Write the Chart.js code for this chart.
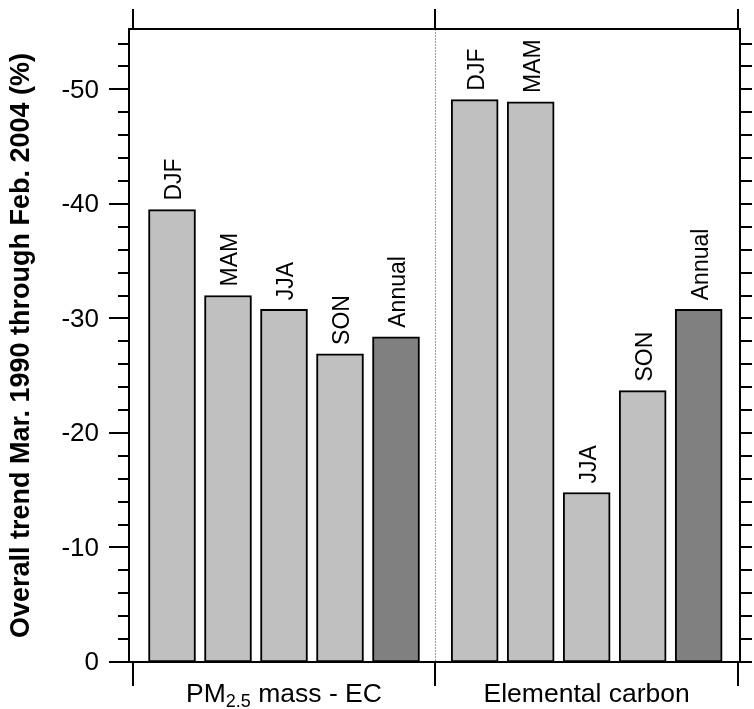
<!DOCTYPE html>
<html>
<head>
<meta charset="utf-8">
<script src="https://cdn.jsdelivr.net/npm/chart.js@4.4.1/dist/chart.umd.min.js"></script>
<style>
  html, body { margin: 0; padding: 0; background: #ffffff; }
  #trend-chart { display: block; }
</style>
</head>
<body>
<canvas id="trend-chart" width="754" height="709"></canvas>
<script>
// --- Data ---
const seasons = ['DJF', 'MAM', 'JJA', 'SON', 'Annual'];
const groupNames = ['PM2.5 mass - EC', 'Elemental carbon'];
const pmMinusEcTrend = [-39.5, -32.0, -30.8, -26.9, -28.4];
const ecTrend = [-49.1, -48.9, -14.8, -23.7, -30.8];
const yTickValues = [0, -10, -20, -30, -40, -50];

(function () {
    const FONT = '"Liberation Sans", Arial, Helvetica, sans-serif';
    // x layout in "bar pitch" units (one unit = distance between bar centres)
    const groupStart = [0.768, 6.173];
    const groupEdges = [0.071, 5.464, 10.875];

    function barColors() {
        return seasons.map(s => s === 'Annual' ? '#808080' : '#c0c0c0');
    }

    function toPoints(values, g) {
        return values.map((v, i) => ({ x: groupStart[g] + i, y: v }));
    }

    const datasets = [pmMinusEcTrend, ecTrend].map((values, g) => ({
        label: groupNames[g],
        data: toPoints(values, g),
        backgroundColor: barColors(),
        borderColor: '#000000',
        borderWidth: 2,
        borderSkipped: false,
        barThickness: 47,
        grouped: false
    }));

    // Frame, ticks, divider and all texts, placed through the chart scales
    const framePlugin = {
        id: 'frameTicks',
        beforeDatasetsDraw(chart) {
            const ctx = chart.ctx;
            const a = chart.chartArea;
            const xs = chart.scales.x;
            const x = Math.round(xs.getPixelForValue(groupEdges[1])) + 0.5;
            ctx.save();
            ctx.strokeStyle = '#9090ff';
            ctx.lineWidth = 1;
            ctx.setLineDash([2, 1]);
            ctx.beginPath();
            ctx.moveTo(x, a.top);
            ctx.lineTo(x, a.bottom);
            ctx.stroke();
            ctx.restore();
        },
        afterDraw(chart) {
            const ctx = chart.ctx;
            const a = chart.chartArea;
            const xs = chart.scales.x;
            const ys = chart.scales.y;
            ctx.save();
            ctx.strokeStyle = '#000000';
            ctx.lineWidth = 2;
            ctx.lineCap = 'butt';

            // plot box
            ctx.strokeRect(a.left, a.top, a.right - a.left, a.bottom - a.top);

            // y ticks every 2 %, longer at labelled values
            for (let v = 0; v >= ys.min; v -= 2) {
                const y = Math.round(ys.getPixelForValue(v));
                const major = yTickValues.includes(v);
                ctx.beginPath();
                ctx.moveTo(a.left - (major ? 20 : 11), y);
                ctx.lineTo(a.left, y);
                ctx.moveTo(a.right, y);
                ctx.lineTo(a.right + 12, y);
                ctx.stroke();
            }

            // group boundary ticks, top and bottom
            groupEdges.forEach(e => {
                const x = Math.round(xs.getPixelForValue(e));
                ctx.beginPath();
                ctx.moveTo(x, a.top);
                ctx.lineTo(x, a.top - 20);
                ctx.moveTo(x, a.bottom);
                ctx.lineTo(x, a.bottom + 24);
                ctx.stroke();
            });

            ctx.fillStyle = '#000000';

            // y tick labels
            ctx.font = '26px ' + FONT;
            ctx.textAlign = 'right';
            ctx.textBaseline = 'middle';
            yTickValues.forEach(v => {
                ctx.fillText(String(v), a.left - 30, ys.getPixelForValue(v) + 1);
            });

            // y axis title
            ctx.save();
            ctx.translate(22, (a.top + a.bottom) / 2);
            ctx.rotate(-Math.PI / 2);
            ctx.font = 'bold 27px ' + FONT;
            ctx.textAlign = 'center';
            ctx.textBaseline = 'middle';
            ctx.fillText('Overall trend Mar. 1990 through Feb. 2004 (%)', 0, 0);
            ctx.restore();

            // rotated season labels above every bar (slightly widened like the original)
            ctx.font = '23px ' + FONT;
            chart.data.datasets.forEach((ds, d) => {
                chart.getDatasetMeta(d).data.forEach((bar, i) => {
                    ctx.save();
                    ctx.translate(bar.x, bar.y - 9);
                    ctx.scale(1.08, 1);
                    ctx.rotate(-Math.PI / 2);
                    ctx.textAlign = 'left';
                    ctx.textBaseline = 'alphabetic';
                    ctx.fillText(seasons[i], 0, 8.5);
                    ctx.restore();
                });
            });

            // group labels under the axis
            const baseY = 702;
            chart.data.datasets.forEach((ds, d) => {
                const bars = chart.getDatasetMeta(d).data;
                const cx = (bars[0].x + bars[bars.length - 1].x) / 2;
                ctx.textAlign = 'left';
                ctx.textBaseline = 'alphabetic';
                if (d === 0) {
                    const big = '26.5px ' + FONT;
                    const small = '18px ' + FONT;
                    ctx.font = big;
                    const w1 = ctx.measureText('PM').width;
                    const w3 = ctx.measureText(' mass - EC').width;
                    ctx.font = small;
                    const w2 = ctx.measureText('2.5').width;
                    let x = cx - (w1 + w2 + w3) / 2;
                    ctx.font = big;
                    ctx.fillText('PM', x, baseY);
                    x += w1;
                    ctx.font = small;
                    ctx.fillText('2.5', x, baseY + 5);
                    x += w2;
                    ctx.font = big;
                    ctx.fillText(' mass - EC', x, baseY);
                } else {
                    ctx.font = '26.5px ' + FONT;
                    ctx.textAlign = 'center';
                    ctx.fillText(groupNames[d], cx, baseY);
                }
            });
            ctx.restore();
        }
    };

    const config = {
        type: 'bar',
        data: { datasets: datasets },
        options: {
            responsive: false,
            devicePixelRatio: 1,
            animation: false,
            layout: { padding: { left: 129, top: 29, right: 14, bottom: 47 } },
            scales: {
                x: {
                    type: 'linear',
                    display: false,
                    offset: false,
                    min: 0,
                    max: 10.911
                },
                y: {
                    type: 'linear',
                    display: false,
                    reverse: true,
                    min: -55.27,
                    max: 0
                }
            },
            plugins: {
                legend: { display: false },
                tooltip: { enabled: false }
            }
        },
        plugins: [framePlugin]
    };

    new Chart(document.getElementById('trend-chart'), config);
})();
</script>
</body>
</html>
